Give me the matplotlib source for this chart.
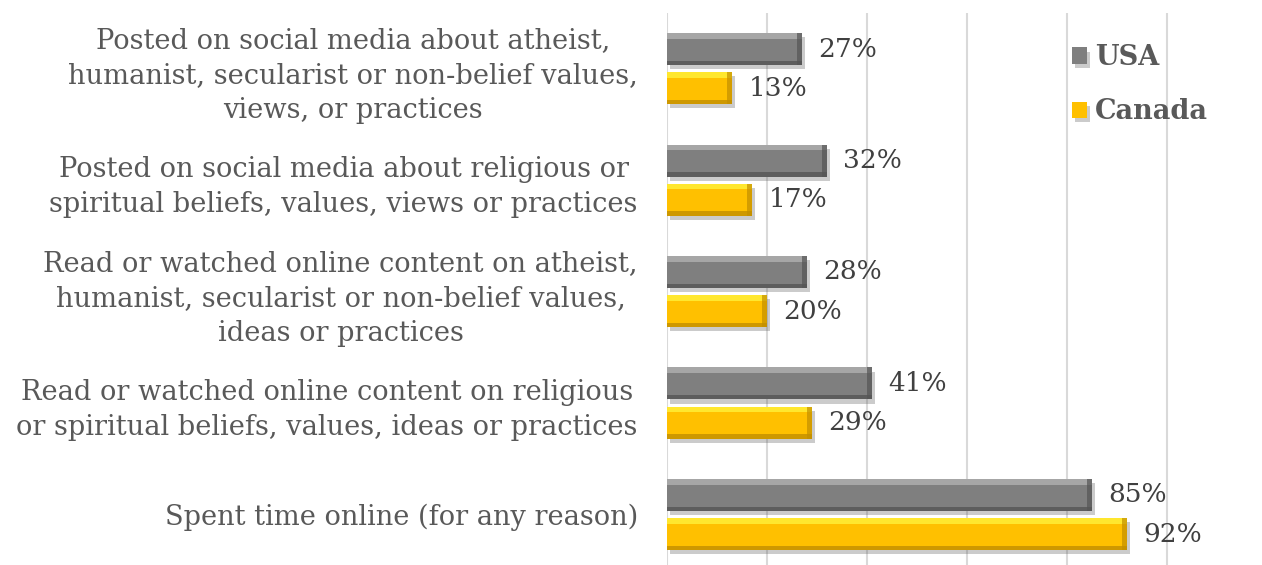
import matplotlib.pyplot as plt
import matplotlib.patheffects as pe
import numpy as np

categories = [
    'Posted on social media about atheist,\nhumanist, secularist or non-belief values,\nviews, or practices',
    'Posted on social media about religious or\nspiritual beliefs, values, views or practices',
    'Read or watched online content on atheist,\nhumanist, secularist or non-belief values,\nideas or practices',
    'Read or watched online content on religious\nor spiritual beliefs, values, ideas or practices',
    'Spent time online (for any reason)',
]
usa = [27, 32, 28, 41, 85]
canada = [13, 17, 20, 29, 92]

gray = ['#7f7f7f', '#b0b0b0', '#555555']   # main, highlight, dark edge
gold = ['#ffc000', '#fff23a', '#c28f00']

plt.rcParams['font.family'] = 'DejaVu Serif'

fig = plt.figure(figsize=(12.62, 5.65), dpi=100)
ax = fig.add_axes([0.5285, -0.0093, 0.4754, 0.9867])

y = np.arange(len(categories))
off = 0.175
h = 0.287
shadow = [pe.SimplePatchShadow(offset=(2, -3), alpha=0.3, shadow_rgbFace='#555555'), pe.Normal()]


def bevel_bars(ypos, vals, cols):
    vals = np.array(vals, dtype=float)
    bars = ax.barh(ypos, vals, height=h, color=cols[0], zorder=3)
    for b in bars:
        b.set_path_effects(shadow)
    # lighter top strip and darker bottom / right edges
    ax.barh(ypos - h / 2 + 0.025, vals, height=0.05, color=cols[1], zorder=4, alpha=0.8)
    ax.barh(ypos + h / 2 - 0.02, vals, height=0.04, color=cols[2], zorder=4, alpha=0.8)
    ax.barh(ypos, np.full(len(vals), 0.9), left=vals - 0.9, height=h, color=cols[2], zorder=4, alpha=0.7)
    return bars


b_usa = bevel_bars(y - off, usa, gray)
b_can = bevel_bars(y + off, canada, gold)

for i in range(len(categories)):
    ax.text(usa[i] + 3.3, y[i] - off, f'{usa[i]}%', va='center', ha='left',
            fontsize=19, color='#404040')
    ax.text(canada[i] + 3.3, y[i] + off, f'{canada[i]}%', va='center', ha='left',
            fontsize=19, color='#404040')

ax.set_xlim(0, 120)
ax.set_ylim(4.5, -0.5)
ax.set_xticks([0, 20, 40, 60, 80, 100])
ax.xaxis.grid(True, color='#d9d9d9', linewidth=1.5, zorder=0)
ax.set_axisbelow(True)
ax.tick_params(axis='x', length=0, labelbottom=False)
for s in ax.spines.values():
    s.set_visible(False)

ax.set_yticks(y, categories)
ax.tick_params(axis='y', length=0, pad=21, labelsize=19.6, labelcolor='#595959')
for lab in ax.get_yticklabels():
    lab.set_multialignment('center')
    lab.set_linespacing(1.38)

leg = ax.legend([b_usa, b_can], ['USA', 'Canada'], loc='upper left',
                bbox_to_anchor=(0.657, 0.963), frameon=False,
                prop={'weight': 'bold', 'size': 19.5}, labelcolor='#595959',
                handlelength=0.55, handleheight=0.55, handletextpad=0.3,
                labelspacing=1.0, borderaxespad=0)

fig.savefig('out.png', dpi=100)
